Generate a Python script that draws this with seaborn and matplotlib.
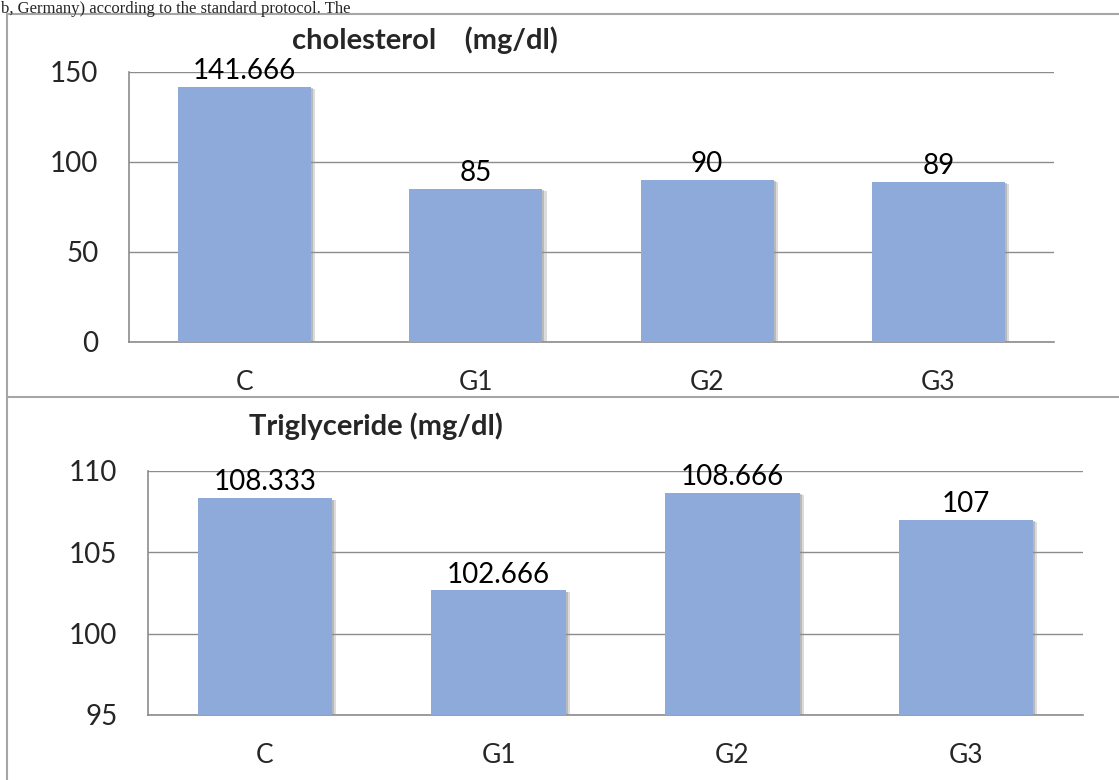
import matplotlib
matplotlib.use('Agg')

import pandas as pd
import matplotlib.pyplot as plt
import matplotlib.patheffects as pe
from matplotlib.lines import Line2D
import seaborn as sns

# data
groups = ['C', 'G1', 'G2', 'G3']
cholesterol = [141.666, 85, 90, 89]
triglyceride = [108.333, 102.666, 108.666, 107]
chol_labels = ['141.666', '85', '90', '89']
trig_labels = ['108.333', '102.666', '108.666', '107']

chol_ticks = [0, 50, 100, 150]
trig_ticks = [95, 100, 105, 110]

BAR = '#8EAADB'
GRID = '#8C8C8C'
FRAME = '#A6A6A6'

sns.set_style('white')
plt.rcParams['font.family'] = ['Lato', 'DejaVu Sans']

W, H = 1119, 780
fig = plt.figure(figsize=(W / 100, H / 100), dpi=100)


def px_axes(left, top, right, bottom):
    return fig.add_axes([left / W, 1 - bottom / H, (right - left) / W, (bottom - top) / H])


def draw_panel(ax, values, labels, ticks, ylim, title, title_xy):
    df = pd.DataFrame({'group': groups, 'value': values})
    sns.barplot(data=df, x='group', y='value', color=BAR, width=0.575,
                saturation=1, ax=ax, zorder=3)
    for bar in ax.patches:
        bar.set_edgecolor('none')
        bar.set_path_effects([pe.SimplePatchShadow(offset=(3, -1.5), shadow_rgbFace='#9a9a9a', alpha=0.35),
                              pe.SimplePatchShadow(offset=(1.5, -1), shadow_rgbFace='#888888', alpha=0.4),
                              pe.Normal()])
    ax.set_ylim(*ylim)
    ax.set_yticks(ticks)
    ax.set_yticklabels([str(t) for t in ticks])
    ax.yaxis.grid(True, color=GRID, lw=1, zorder=0)
    ax.set_axisbelow(True)
    for s in ['top', 'right']:
        ax.spines[s].set_visible(False)
    for s in ['left', 'bottom']:
        ax.spines[s].set_color(GRID)
        ax.spines[s].set_linewidth(1.2)
    ax.tick_params(axis='y', length=0, pad=22, labelsize=20)
    ax.tick_params(axis='x', length=0, pad=20, labelsize=19)
    ax.set_xlabel('')
    ax.set_ylabel('')
    for bar, lab in zip(ax.patches, labels):
        ax.annotate(lab, (bar.get_x() + bar.get_width() / 2, bar.get_height()),
                    xytext=(0, 2), textcoords='offset points',
                    ha='center', va='bottom', fontsize=20, color='black', zorder=5)
    fig.text(title_xy[0] / W, 1 - title_xy[1] / H, title, ha='center', va='center',
             fontsize=21, fontweight='bold')


ax1 = px_axes(129, 72, 1054, 342)
draw_panel(ax1, cholesterol, chol_labels, chol_ticks, (0, 150),
           'cholesterol    (mg/dl)', (425, 40))

ax2 = px_axes(148, 471, 1083, 715)
draw_panel(ax2, triglyceride, trig_labels, trig_ticks, (95, 110),
           'Triglyceride (mg/dl)', (376, 426))

# frame lines of the embedded charts
fig.add_artist(Line2D([7 / W, 7 / W], [0, 1 - 14 / H], transform=fig.transFigure, color=FRAME, lw=1.5))
fig.add_artist(Line2D([7 / W, 1], [1 - 14 / H, 1 - 14 / H], transform=fig.transFigure, color=FRAME, lw=1.5))
fig.add_artist(Line2D([7 / W, 1], [1 - 397 / H, 1 - 397 / H], transform=fig.transFigure, color=FRAME, lw=1.5))

# text line from the surrounding page, above the chart frame
fig.text(0.001, 0.999, 'b, Germany) according to the standard protocol. The',
         family='Liberation Serif', fontsize=12, ha='left', va='top')

fig.savefig('out.png', dpi=100)
